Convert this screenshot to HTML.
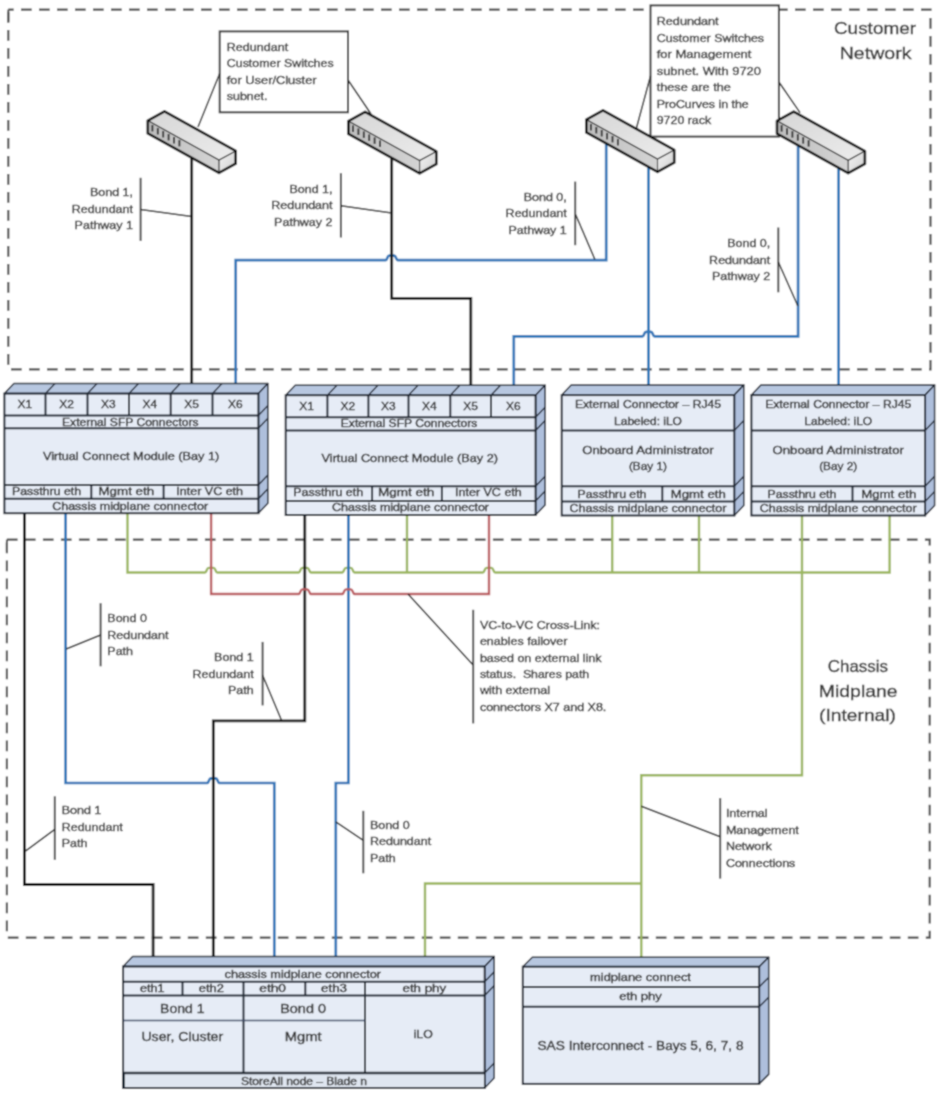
<!DOCTYPE html>
<html><head><meta charset="utf-8"><style>
html,body{margin:0;padding:0;background:#fff;width:944px;height:1106px;overflow:hidden}
svg{display:block}
text{font-family:"Liberation Sans", sans-serif}
</style></head><body>
<svg width="944" height="1106" viewBox="0 0 944 1106">
<defs>
<linearGradient id="swtop" x1="0" y1="0" x2="1" y2="1"><stop offset="0" stop-color="#d6d6d6"/><stop offset="1" stop-color="#ececec"/></linearGradient>
<linearGradient id="swfront" x1="0" y1="0" x2="1" y2="0"><stop offset="0" stop-color="#bdbdbd"/><stop offset="1" stop-color="#d4d4d4"/></linearGradient>
<linearGradient id="swend" x1="0" y1="0" x2="1" y2="1"><stop offset="0" stop-color="#f4f4f4"/><stop offset="1" stop-color="#cfcfcf"/></linearGradient>
<filter id="soft" filterUnits="userSpaceOnUse" x="0" y="0" width="944" height="1106"><feConvolveMatrix order="3" kernelMatrix="1 2 1 2 6 2 1 2 1" divisor="18" edgeMode="duplicate"/></filter>
</defs>
<rect width="944" height="1106" fill="#fff"/>
<g filter="url(#soft)">
<rect width="944" height="1106" fill="#fff"/>
<path d="M8.3,9.6 L930.5,9.6 L930.5,369.3 L8.3,369.3 Z" fill="none" stroke="#4f4f4f" stroke-width="2.2" stroke-dasharray="10.7 7.3" stroke-dashoffset="5.3" stroke-linejoin="miter"/>
<path d="M6.9,539.6 L929.7,539.6 L929.7,937.6 L6.9,937.6 Z" fill="none" stroke="#4f4f4f" stroke-width="2.2" stroke-dasharray="10.7 7.3" stroke-dashoffset="0" stroke-linejoin="miter"/>
<path d="M8.3,21.6 L8.3,9.6" stroke="#4f4f4f" stroke-width="2"/>
<path d="M6.9,551.2 L6.9,539.6" stroke="#4f4f4f" stroke-width="2"/>
<path d="M606.2,140 L606.2,260.2 L397.9,260.2 C395.9,260.2 396.3,255.6 394.09999999999997,255.6 L389.3,255.6 C387.09999999999997,255.6 387.5,260.2 385.5,260.2 L235.7,260.2 L235.7,384" fill="none" stroke="#2e76b8" stroke-width="2.7" stroke-linejoin="miter"/>
<path d="M798.1,143 L798.1,336.4 L654.7,336.4 C652.7,336.4 653.1,331.79999999999995 650.9,331.79999999999995 L646.1,331.79999999999995 C643.9,331.79999999999995 644.3,336.4 642.3,336.4 L513.8,336.4 L513.8,385" fill="none" stroke="#2e76b8" stroke-width="2.7" stroke-linejoin="miter"/>
<path d="M648.5,160 L648.5,385" fill="none" stroke="#2e76b8" stroke-width="2.7" stroke-linejoin="miter"/>
<path d="M838.6,160 L838.6,385" fill="none" stroke="#2e76b8" stroke-width="2.7" stroke-linejoin="miter"/>
<path d="M191.7,150 L191.7,384" fill="none" stroke="#151515" stroke-width="2.8" stroke-linejoin="miter"/>
<path d="M391.7,150 L391.7,298.3 L470.8,298.3 L470.8,385" fill="none" stroke="#151515" stroke-width="2.8" stroke-linejoin="miter"/>
<path d="M127.5,513 L127.5,572.5 L204.9,572.5 C206.9,572.5 206.5,567.9 208.7,567.9 L213.5,567.9 C215.7,567.9 215.29999999999998,572.5 217.29999999999998,572.5 L298.6,572.5 C300.6,572.5 300.2,567.9 302.40000000000003,567.9 L307.2,567.9 C309.40000000000003,567.9 309.0,572.5 311.0,572.5 L342.2,572.5 C344.2,572.5 343.79999999999995,567.9 346.0,567.9 L350.79999999999995,567.9 C353.0,567.9 352.59999999999997,572.5 354.59999999999997,572.5 L482.8,572.5 C484.8,572.5 484.4,567.9 486.6,567.9 L491.4,567.9 C493.6,567.9 493.2,572.5 495.2,572.5 L889.6,572.5 L889.6,515" fill="none" stroke="#9ab55e" stroke-width="2.4" stroke-linejoin="miter"/>
<path d="M24.4,513 L24.4,884.5 L153.1,884.5 L153.1,957" fill="none" stroke="#151515" stroke-width="2.8" stroke-linejoin="miter"/>
<path d="M65.6,513 L65.6,783 L207.10000000000002,783 C209.10000000000002,783 208.70000000000002,778.4 210.9,778.4 L215.70000000000002,778.4 C217.9,778.4 217.5,783 219.5,783 L274.3,783 L274.3,957" fill="none" stroke="#2e76b8" stroke-width="2.7" stroke-linejoin="miter"/>
<path d="M304.8,515 L304.8,720.8 L213.3,720.8 L213.3,957" fill="none" stroke="#151515" stroke-width="2.8" stroke-linejoin="miter"/>
<path d="M348.4,515 L348.4,783 L335.8,783 L335.8,957" fill="none" stroke="#2e76b8" stroke-width="2.7" stroke-linejoin="miter"/>
<path d="M407.0,515 L407.0,572.5" fill="none" stroke="#9ab55e" stroke-width="2.4" stroke-linejoin="miter"/>
<path d="M612.2,515 L612.2,572.5" fill="none" stroke="#9ab55e" stroke-width="2.4" stroke-linejoin="miter"/>
<path d="M699.0,515 L699.0,572.5" fill="none" stroke="#9ab55e" stroke-width="2.4" stroke-linejoin="miter"/>
<path d="M211.1,513 L211.1,594 L298.6,594 C300.6,594 300.2,589.4 302.40000000000003,589.4 L307.2,589.4 C309.40000000000003,589.4 309.0,594 311.0,594 L342.2,594 C344.2,594 343.79999999999995,589.4 346.0,589.4 L350.79999999999995,589.4 C353.0,589.4 352.59999999999997,594 354.59999999999997,594 L489,594 L489,515" fill="none" stroke="#bb5a5f" stroke-width="2.4" stroke-linejoin="miter"/>
<path d="M802,515 L802,775.3 L641.3,775.3 L641.3,957" fill="none" stroke="#9ab55e" stroke-width="2.4" stroke-linejoin="miter"/>
<path d="M641.3,883.5 L425,883.5 L425,957" fill="none" stroke="#9ab55e" stroke-width="2.4" stroke-linejoin="miter"/>
<rect x="219.7" y="31.4" width="128.3" height="80.9" fill="#fff" stroke="#3a3a3a" stroke-width="2"/>
<line x1="198" y1="127" x2="219.7" y2="73.5" stroke="#2a2a2a" stroke-width="1.5" />
<line x1="348" y1="80" x2="371" y2="114" stroke="#2a2a2a" stroke-width="1.5" />
<text x="226.8" y="50.5" font-size="11.5" text-anchor="start" fill="#3a3a3a" stroke="#3a3a3a" stroke-width="0.4" textLength="61.5" lengthAdjust="spacingAndGlyphs" >Redundant</text>
<text x="226.8" y="67.0" font-size="11.5" text-anchor="start" fill="#3a3a3a" stroke="#3a3a3a" stroke-width="0.4" textLength="106.8" lengthAdjust="spacingAndGlyphs" >Customer Switches</text>
<text x="226.8" y="83.5" font-size="11.5" text-anchor="start" fill="#3a3a3a" stroke="#3a3a3a" stroke-width="0.4" textLength="89.8" lengthAdjust="spacingAndGlyphs" >for User/Cluster</text>
<text x="226.8" y="100.0" font-size="11.5" text-anchor="start" fill="#3a3a3a" stroke="#3a3a3a" stroke-width="0.4" textLength="40.7" lengthAdjust="spacingAndGlyphs" >subnet.</text>
<rect x="650.5" y="5.4" width="128.4" height="131.2" fill="#fff" stroke="#3a3a3a" stroke-width="2"/>
<line x1="636.4" y1="128.2" x2="650.5" y2="76" stroke="#2a2a2a" stroke-width="1.5" />
<line x1="778.9" y1="82" x2="800" y2="112.6" stroke="#2a2a2a" stroke-width="1.5" />
<text x="656.7" y="25.0" font-size="11.5" text-anchor="start" fill="#3a3a3a" stroke="#3a3a3a" stroke-width="0.4" textLength="61.9" lengthAdjust="spacingAndGlyphs" >Redundant</text>
<text x="656.7" y="41.53" font-size="11.5" text-anchor="start" fill="#3a3a3a" stroke="#3a3a3a" stroke-width="0.4" textLength="107.4" lengthAdjust="spacingAndGlyphs" >Customer Switches</text>
<text x="656.7" y="58.06" font-size="11.5" text-anchor="start" fill="#3a3a3a" stroke="#3a3a3a" stroke-width="0.4" textLength="94.8" lengthAdjust="spacingAndGlyphs" >for Management</text>
<text x="656.7" y="74.59" font-size="11.5" text-anchor="start" fill="#3a3a3a" stroke="#3a3a3a" stroke-width="0.4" textLength="104.3" lengthAdjust="spacingAndGlyphs" >subnet. With 9720</text>
<text x="656.7" y="91.12" font-size="11.5" text-anchor="start" fill="#3a3a3a" stroke="#3a3a3a" stroke-width="0.4" textLength="74.1" lengthAdjust="spacingAndGlyphs" >these are the</text>
<text x="656.7" y="107.65" font-size="11.5" text-anchor="start" fill="#3a3a3a" stroke="#3a3a3a" stroke-width="0.4" textLength="92" lengthAdjust="spacingAndGlyphs" >ProCurves in the</text>
<text x="656.7" y="124.18" font-size="11.5" text-anchor="start" fill="#3a3a3a" stroke="#3a3a3a" stroke-width="0.4" textLength="54.5" lengthAdjust="spacingAndGlyphs" >9720 rack</text>
<polygon points="147.8,120.6 164.5,111.4 235.7,150.9 219.0,160.1" fill="url(#swtop)"/>
<polygon points="147.8,120.6 219.0,160.1 219.0,172.9 147.8,133.4" fill="url(#swfront)"/>
<polygon points="219.0,160.1 235.7,150.9 235.7,163.7 219.0,172.9" fill="url(#swend)"/>
<polyline points="147.8,120.6 219.0,160.1 235.7,150.9" fill="none" stroke="#222" stroke-width="1.1"/>
<line x1="219.0" y1="160.1" x2="219.0" y2="172.9" stroke="#222" stroke-width="1.1"/>
<line x1="152.4" y1="124.94" x2="152.4" y2="131.44" stroke="#2a2a2a" stroke-width="1.9"/>
<line x1="157.8" y1="127.94" x2="157.8" y2="134.44" stroke="#2a2a2a" stroke-width="1.9"/>
<line x1="163.2" y1="130.94" x2="163.2" y2="137.44" stroke="#2a2a2a" stroke-width="1.9"/>
<line x1="168.6" y1="133.93" x2="168.6" y2="140.43" stroke="#2a2a2a" stroke-width="1.9"/>
<line x1="174.0" y1="136.93" x2="174.0" y2="143.43" stroke="#2a2a2a" stroke-width="1.9"/>
<line x1="179.4" y1="139.92" x2="179.4" y2="146.42" stroke="#2a2a2a" stroke-width="1.9"/>
<polygon points="147.8,120.6 164.5,111.4 235.7,150.9 235.7,163.7 219.0,172.9 147.8,133.4" fill="none" stroke="#111" stroke-width="2.6" stroke-linejoin="round"/>
<polygon points="348.4,121.1 365.1,111.9 436.3,151.4 419.6,160.6" fill="url(#swtop)"/>
<polygon points="348.4,121.1 419.6,160.6 419.6,173.4 348.4,133.9" fill="url(#swfront)"/>
<polygon points="419.6,160.6 436.3,151.4 436.3,164.2 419.6,173.4" fill="url(#swend)"/>
<polyline points="348.4,121.1 419.6,160.6 436.3,151.4" fill="none" stroke="#222" stroke-width="1.1"/>
<line x1="419.6" y1="160.6" x2="419.6" y2="173.4" stroke="#222" stroke-width="1.1"/>
<line x1="353.0" y1="125.44" x2="353.0" y2="131.94" stroke="#2a2a2a" stroke-width="1.9"/>
<line x1="358.4" y1="128.44" x2="358.4" y2="134.94" stroke="#2a2a2a" stroke-width="1.9"/>
<line x1="363.8" y1="131.44" x2="363.8" y2="137.94" stroke="#2a2a2a" stroke-width="1.9"/>
<line x1="369.2" y1="134.43" x2="369.2" y2="140.93" stroke="#2a2a2a" stroke-width="1.9"/>
<line x1="374.6" y1="137.43" x2="374.6" y2="143.93" stroke="#2a2a2a" stroke-width="1.9"/>
<line x1="380.0" y1="140.42" x2="380.0" y2="146.92" stroke="#2a2a2a" stroke-width="1.9"/>
<polygon points="348.4,121.1 365.1,111.9 436.3,151.4 436.3,164.2 419.6,173.4 348.4,133.9" fill="none" stroke="#111" stroke-width="2.6" stroke-linejoin="round"/>
<polygon points="586.3,119.6 603.0,110.4 674.2,149.9 657.5,159.1" fill="url(#swtop)"/>
<polygon points="586.3,119.6 657.5,159.1 657.5,171.9 586.3,132.4" fill="url(#swfront)"/>
<polygon points="657.5,159.1 674.2,149.9 674.2,162.7 657.5,171.9" fill="url(#swend)"/>
<polyline points="586.3,119.6 657.5,159.1 674.2,149.9" fill="none" stroke="#222" stroke-width="1.1"/>
<line x1="657.5" y1="159.1" x2="657.5" y2="171.9" stroke="#222" stroke-width="1.1"/>
<line x1="590.9" y1="123.94" x2="590.9" y2="130.44" stroke="#2a2a2a" stroke-width="1.9"/>
<line x1="596.3" y1="126.94" x2="596.3" y2="133.44" stroke="#2a2a2a" stroke-width="1.9"/>
<line x1="601.7" y1="129.94" x2="601.7" y2="136.44" stroke="#2a2a2a" stroke-width="1.9"/>
<line x1="607.1" y1="132.93" x2="607.1" y2="139.43" stroke="#2a2a2a" stroke-width="1.9"/>
<line x1="612.5" y1="135.93" x2="612.5" y2="142.43" stroke="#2a2a2a" stroke-width="1.9"/>
<line x1="617.9" y1="138.92" x2="617.9" y2="145.42" stroke="#2a2a2a" stroke-width="1.9"/>
<polygon points="586.3,119.6 603.0,110.4 674.2,149.9 674.2,162.7 657.5,171.9 586.3,132.4" fill="none" stroke="#111" stroke-width="2.6" stroke-linejoin="round"/>
<polygon points="777.0,120.8 793.7,111.6 864.9,151.1 848.2,160.3" fill="url(#swtop)"/>
<polygon points="777.0,120.8 848.2,160.3 848.2,173.1 777.0,133.6" fill="url(#swfront)"/>
<polygon points="848.2,160.3 864.9,151.1 864.9,163.9 848.2,173.1" fill="url(#swend)"/>
<polyline points="777.0,120.8 848.2,160.3 864.9,151.1" fill="none" stroke="#222" stroke-width="1.1"/>
<line x1="848.2" y1="160.3" x2="848.2" y2="173.1" stroke="#222" stroke-width="1.1"/>
<line x1="781.6" y1="125.14" x2="781.6" y2="131.64" stroke="#2a2a2a" stroke-width="1.9"/>
<line x1="787.0" y1="128.14" x2="787.0" y2="134.64" stroke="#2a2a2a" stroke-width="1.9"/>
<line x1="792.4" y1="131.14" x2="792.4" y2="137.64" stroke="#2a2a2a" stroke-width="1.9"/>
<line x1="797.8" y1="134.13" x2="797.8" y2="140.63" stroke="#2a2a2a" stroke-width="1.9"/>
<line x1="803.2" y1="137.13" x2="803.2" y2="143.63" stroke="#2a2a2a" stroke-width="1.9"/>
<line x1="808.6" y1="140.12" x2="808.6" y2="146.62" stroke="#2a2a2a" stroke-width="1.9"/>
<polygon points="777.0,120.8 793.7,111.6 864.9,151.1 864.9,163.9 848.2,173.1 777.0,133.6" fill="none" stroke="#111" stroke-width="2.6" stroke-linejoin="round"/>
<text x="875" y="33.9" font-size="17" text-anchor="middle" fill="#3a3a3a" stroke="#3a3a3a" stroke-width="0.4" textLength="82.1" lengthAdjust="spacingAndGlyphs" >Customer</text>
<text x="875.6" y="58.9" font-size="17" text-anchor="middle" fill="#3a3a3a" stroke="#3a3a3a" stroke-width="0.4" textLength="71.7" lengthAdjust="spacingAndGlyphs" >Network</text>
<text x="857.9" y="671.5" font-size="17" text-anchor="middle" fill="#3a3a3a" stroke="#3a3a3a" stroke-width="0.4" textLength="60.3" lengthAdjust="spacingAndGlyphs" >Chassis</text>
<text x="858.2" y="696.6" font-size="17" text-anchor="middle" fill="#3a3a3a" stroke="#3a3a3a" stroke-width="0.4" textLength="78.8" lengthAdjust="spacingAndGlyphs" >Midplane</text>
<text x="857.5" y="721.4" font-size="17" text-anchor="middle" fill="#3a3a3a" stroke="#3a3a3a" stroke-width="0.4" textLength="77" lengthAdjust="spacingAndGlyphs" >(Internal)</text>
<line x1="140.6" y1="177.8" x2="140.6" y2="240.9" stroke="#484848" stroke-width="2" />
<line x1="140.6" y1="209.6" x2="191.7" y2="216.4" stroke="#222" stroke-width="1.5" />
<text x="133" y="196.4" font-size="11.5" text-anchor="end" fill="#3a3a3a" stroke="#3a3a3a" stroke-width="0.4" textLength="43.09" lengthAdjust="spacingAndGlyphs" >Bond 1,</text>
<text x="133" y="212.9" font-size="11.5" text-anchor="end" fill="#3a3a3a" stroke="#3a3a3a" stroke-width="0.4" textLength="61.16" lengthAdjust="spacingAndGlyphs" >Redundant</text>
<text x="133" y="229.4" font-size="11.5" text-anchor="end" fill="#3a3a3a" stroke="#3a3a3a" stroke-width="0.4" textLength="58.37" lengthAdjust="spacingAndGlyphs" >Pathway 1</text>
<line x1="340.9" y1="173.2" x2="340.9" y2="237.5" stroke="#484848" stroke-width="2" />
<line x1="340.9" y1="205.8" x2="391.7" y2="212.9" stroke="#222" stroke-width="1.5" />
<text x="332.5" y="192.5" font-size="11.5" text-anchor="end" fill="#3a3a3a" stroke="#3a3a3a" stroke-width="0.4" textLength="43.09" lengthAdjust="spacingAndGlyphs" >Bond 1,</text>
<text x="332.5" y="209.0" font-size="11.5" text-anchor="end" fill="#3a3a3a" stroke="#3a3a3a" stroke-width="0.4" textLength="61.16" lengthAdjust="spacingAndGlyphs" >Redundant</text>
<text x="332.5" y="225.5" font-size="11.5" text-anchor="end" fill="#3a3a3a" stroke="#3a3a3a" stroke-width="0.4" textLength="58.37" lengthAdjust="spacingAndGlyphs" >Pathway 2</text>
<line x1="575.2" y1="181.6" x2="575.2" y2="245.2" stroke="#484848" stroke-width="2" />
<line x1="575.7" y1="214.7" x2="594.8" y2="259.2" stroke="#222" stroke-width="1.5" />
<text x="566.8" y="200.7" font-size="11.5" text-anchor="end" fill="#3a3a3a" stroke="#3a3a3a" stroke-width="0.4" textLength="43.09" lengthAdjust="spacingAndGlyphs" >Bond 0,</text>
<text x="566.8" y="217.2" font-size="11.5" text-anchor="end" fill="#3a3a3a" stroke="#3a3a3a" stroke-width="0.4" textLength="61.16" lengthAdjust="spacingAndGlyphs" >Redundant</text>
<text x="566.8" y="233.7" font-size="11.5" text-anchor="end" fill="#3a3a3a" stroke="#3a3a3a" stroke-width="0.4" textLength="58.37" lengthAdjust="spacingAndGlyphs" >Pathway 1</text>
<line x1="778.3" y1="227.5" x2="778.3" y2="292.3" stroke="#484848" stroke-width="2" />
<line x1="778.3" y1="262" x2="797.9" y2="306" stroke="#222" stroke-width="1.5" />
<text x="770.3" y="247.4" font-size="11.5" text-anchor="end" fill="#3a3a3a" stroke="#3a3a3a" stroke-width="0.4" textLength="43.09" lengthAdjust="spacingAndGlyphs" >Bond 0,</text>
<text x="770.3" y="263.9" font-size="11.5" text-anchor="end" fill="#3a3a3a" stroke="#3a3a3a" stroke-width="0.4" textLength="61.16" lengthAdjust="spacingAndGlyphs" >Redundant</text>
<text x="770.3" y="280.4" font-size="11.5" text-anchor="end" fill="#3a3a3a" stroke="#3a3a3a" stroke-width="0.4" textLength="58.37" lengthAdjust="spacingAndGlyphs" >Pathway 2</text>
<line x1="100.6" y1="603.2" x2="100.6" y2="666.3" stroke="#484848" stroke-width="2" />
<line x1="100.6" y1="635" x2="66.2" y2="649" stroke="#222" stroke-width="1.5" />
<text x="107.3" y="622.0" font-size="11.5" text-anchor="start" fill="#3a3a3a" stroke="#3a3a3a" stroke-width="0.4" textLength="39.62" lengthAdjust="spacingAndGlyphs" >Bond 0</text>
<text x="107.3" y="638.5" font-size="11.5" text-anchor="start" fill="#3a3a3a" stroke="#3a3a3a" stroke-width="0.4" textLength="61.16" lengthAdjust="spacingAndGlyphs" >Redundant</text>
<text x="107.3" y="655.0" font-size="11.5" text-anchor="start" fill="#3a3a3a" stroke="#3a3a3a" stroke-width="0.4" textLength="25.71" lengthAdjust="spacingAndGlyphs" >Path</text>
<line x1="262.6" y1="641.9" x2="262.6" y2="705.4" stroke="#484848" stroke-width="2" />
<line x1="262.6" y1="675.2" x2="281.7" y2="720.8" stroke="#222" stroke-width="1.5" />
<text x="253.7" y="661.0" font-size="11.5" text-anchor="end" fill="#3a3a3a" stroke="#3a3a3a" stroke-width="0.4" textLength="39.62" lengthAdjust="spacingAndGlyphs" >Bond 1</text>
<text x="253.7" y="677.5" font-size="11.5" text-anchor="end" fill="#3a3a3a" stroke="#3a3a3a" stroke-width="0.4" textLength="61.16" lengthAdjust="spacingAndGlyphs" >Redundant</text>
<text x="253.7" y="694.0" font-size="11.5" text-anchor="end" fill="#3a3a3a" stroke="#3a3a3a" stroke-width="0.4" textLength="25.71" lengthAdjust="spacingAndGlyphs" >Path</text>
<line x1="363.3" y1="810.8" x2="363.3" y2="873.3" stroke="#484848" stroke-width="2" />
<line x1="363.3" y1="840.3" x2="335.8" y2="821.9" stroke="#222" stroke-width="1.5" />
<text x="370" y="828.9" font-size="11.5" text-anchor="start" fill="#3a3a3a" stroke="#3a3a3a" stroke-width="0.4" textLength="39.62" lengthAdjust="spacingAndGlyphs" >Bond 0</text>
<text x="370" y="845.4" font-size="11.5" text-anchor="start" fill="#3a3a3a" stroke="#3a3a3a" stroke-width="0.4" textLength="61.16" lengthAdjust="spacingAndGlyphs" >Redundant</text>
<text x="370" y="861.9" font-size="11.5" text-anchor="start" fill="#3a3a3a" stroke="#3a3a3a" stroke-width="0.4" textLength="25.71" lengthAdjust="spacingAndGlyphs" >Path</text>
<line x1="54.8" y1="796.3" x2="54.8" y2="859.8" stroke="#484848" stroke-width="2" />
<line x1="54.8" y1="829.4" x2="24.4" y2="851.9" stroke="#222" stroke-width="1.5" />
<text x="61.7" y="814.3" font-size="11.5" text-anchor="start" fill="#3a3a3a" stroke="#3a3a3a" stroke-width="0.4" textLength="39.62" lengthAdjust="spacingAndGlyphs" >Bond 1</text>
<text x="61.7" y="830.8" font-size="11.5" text-anchor="start" fill="#3a3a3a" stroke="#3a3a3a" stroke-width="0.4" textLength="61.16" lengthAdjust="spacingAndGlyphs" >Redundant</text>
<text x="61.7" y="847.3" font-size="11.5" text-anchor="start" fill="#3a3a3a" stroke="#3a3a3a" stroke-width="0.4" textLength="25.71" lengthAdjust="spacingAndGlyphs" >Path</text>
<line x1="473.2" y1="609.8" x2="473.2" y2="723.4" stroke="#484848" stroke-width="2" />
<line x1="408" y1="594" x2="473.1" y2="664.9" stroke="#222" stroke-width="1.5" />
<text x="479.9" y="628.8" font-size="11.2" text-anchor="start" fill="#3a3a3a" stroke="#3a3a3a" stroke-width="0.4" textLength="120.16" lengthAdjust="spacingAndGlyphs" >VC-to-VC Cross-Link:</text>
<text x="479.9" y="645.1999999999999" font-size="11.2" text-anchor="start" fill="#3a3a3a" stroke="#3a3a3a" stroke-width="0.4" textLength="87.55" lengthAdjust="spacingAndGlyphs" >enables failover</text>
<text x="479.9" y="661.5999999999999" font-size="11.2" text-anchor="start" fill="#3a3a3a" stroke="#3a3a3a" stroke-width="0.4" textLength="121.6" lengthAdjust="spacingAndGlyphs" >based on external link</text>
<text x="479.9" y="678.0" font-size="11.2" text-anchor="start" fill="#3a3a3a" stroke="#3a3a3a" stroke-width="0.4" textLength="109.3" lengthAdjust="spacingAndGlyphs" >status.  Shares path</text>
<text x="479.9" y="694.4" font-size="11.2" text-anchor="start" fill="#3a3a3a" stroke="#3a3a3a" stroke-width="0.4" textLength="70.17" lengthAdjust="spacingAndGlyphs" >with external</text>
<text x="479.9" y="710.8" font-size="11.2" text-anchor="start" fill="#3a3a3a" stroke="#3a3a3a" stroke-width="0.4" textLength="126.46" lengthAdjust="spacingAndGlyphs" >connectors X7 and X8.</text>
<line x1="720.2" y1="798.1" x2="720.2" y2="878.6" stroke="#484848" stroke-width="2" />
<line x1="641.3" y1="806.2" x2="720.2" y2="836.7" stroke="#222" stroke-width="1.5" />
<text x="725.9" y="817.2" font-size="11" text-anchor="start" fill="#3a3a3a" stroke="#3a3a3a" stroke-width="0.4" textLength="41.69" lengthAdjust="spacingAndGlyphs" >Internal</text>
<text x="725.9" y="833.8000000000001" font-size="11" text-anchor="start" fill="#3a3a3a" stroke="#3a3a3a" stroke-width="0.4" textLength="72.96" lengthAdjust="spacingAndGlyphs" >Management</text>
<text x="725.9" y="850.4000000000001" font-size="11" text-anchor="start" fill="#3a3a3a" stroke="#3a3a3a" stroke-width="0.4" textLength="45.84" lengthAdjust="spacingAndGlyphs" >Network</text>
<text x="725.9" y="867.0" font-size="11" text-anchor="start" fill="#3a3a3a" stroke="#3a3a3a" stroke-width="0.4" textLength="69.48" lengthAdjust="spacingAndGlyphs" >Connections</text>
<polygon points="4.4,393.6 13.9,383.6 267.9,383.6 258.4,393.6" fill="#b7c7e0" stroke="#1f2633" stroke-width="1.5" stroke-linejoin="round"/>
<polygon points="258.4,393.6 267.9,383.6 267.9,503.20000000000005 258.4,513.2" fill="#aebfdc" stroke="#1f2633" stroke-width="1.5" stroke-linejoin="round"/>
<rect x="4.4" y="393.6" width="254.0" height="119.6" fill="#e6ecf6" stroke="#1f2633" stroke-width="2"/>
<line x1="4.4" y1="415.5" x2="258.4" y2="415.5" stroke="#1f2633" stroke-width="2" />
<line x1="258.4" y1="415.5" x2="267.9" y2="405.5" stroke="#1f2633" stroke-width="1.4" />
<line x1="4.4" y1="428.2" x2="258.4" y2="428.2" stroke="#1f2633" stroke-width="2" />
<line x1="258.4" y1="428.2" x2="267.9" y2="418.2" stroke="#1f2633" stroke-width="1.4" />
<line x1="4.4" y1="485" x2="258.4" y2="485" stroke="#1f2633" stroke-width="2" />
<line x1="258.4" y1="485" x2="267.9" y2="475" stroke="#1f2633" stroke-width="1.4" />
<line x1="4.4" y1="498.8" x2="258.4" y2="498.8" stroke="#1f2633" stroke-width="2" />
<line x1="258.4" y1="498.8" x2="267.9" y2="488.8" stroke="#1f2633" stroke-width="1.4" />
<line x1="45.5" y1="393.6" x2="55.0" y2="383.6" stroke="#1f2633" stroke-width="1.4" />
<line x1="87.5" y1="393.6" x2="97.0" y2="383.6" stroke="#1f2633" stroke-width="1.4" />
<line x1="129" y1="393.6" x2="138.5" y2="383.6" stroke="#1f2633" stroke-width="1.4" />
<line x1="170.7" y1="393.6" x2="180.2" y2="383.6" stroke="#1f2633" stroke-width="1.4" />
<line x1="212.5" y1="393.6" x2="222.0" y2="383.6" stroke="#1f2633" stroke-width="1.4" />
<line x1="45.5" y1="393.6" x2="45.5" y2="415.5" stroke="#1f2633" stroke-width="2" />
<line x1="87.5" y1="393.6" x2="87.5" y2="415.5" stroke="#1f2633" stroke-width="2" />
<line x1="129" y1="393.6" x2="129" y2="415.5" stroke="#1f2633" stroke-width="2" />
<line x1="170.7" y1="393.6" x2="170.7" y2="415.5" stroke="#1f2633" stroke-width="2" />
<line x1="212.5" y1="393.6" x2="212.5" y2="415.5" stroke="#1f2633" stroke-width="2" />
<line x1="91.3" y1="485" x2="91.3" y2="498.8" stroke="#1f2633" stroke-width="2" />
<line x1="163.6" y1="485" x2="163.6" y2="498.8" stroke="#1f2633" stroke-width="2" />
<text x="24.95" y="407.5" font-size="11" text-anchor="middle" fill="#333" stroke="#333" stroke-width="0.4" textLength="14.62" lengthAdjust="spacingAndGlyphs" >X1</text>
<text x="66.5" y="407.5" font-size="11" text-anchor="middle" fill="#333" stroke="#333" stroke-width="0.4" textLength="14.62" lengthAdjust="spacingAndGlyphs" >X2</text>
<text x="108.25" y="407.5" font-size="11" text-anchor="middle" fill="#333" stroke="#333" stroke-width="0.4" textLength="14.62" lengthAdjust="spacingAndGlyphs" >X3</text>
<text x="149.85" y="407.5" font-size="11" text-anchor="middle" fill="#333" stroke="#333" stroke-width="0.4" textLength="14.62" lengthAdjust="spacingAndGlyphs" >X4</text>
<text x="191.6" y="407.5" font-size="11" text-anchor="middle" fill="#333" stroke="#333" stroke-width="0.4" textLength="14.62" lengthAdjust="spacingAndGlyphs" >X5</text>
<text x="235.45" y="407.5" font-size="11" text-anchor="middle" fill="#333" stroke="#333" stroke-width="0.4" textLength="14.62" lengthAdjust="spacingAndGlyphs" >X6</text>
<text x="130.3" y="425.6" font-size="11" text-anchor="middle" fill="#333" stroke="#333" stroke-width="0.4" textLength="136.6" lengthAdjust="spacingAndGlyphs" >External SFP Connectors</text>
<text x="131.1" y="460" font-size="11" text-anchor="middle" fill="#333" stroke="#333" stroke-width="0.4" textLength="176.4" lengthAdjust="spacingAndGlyphs" >Virtual Connect Module (Bay 1)</text>
<text x="46.5" y="494.9" font-size="11" text-anchor="middle" fill="#333" stroke="#333" stroke-width="0.4" textLength="69" lengthAdjust="spacingAndGlyphs" >Passthru eth</text>
<text x="126.3" y="494.9" font-size="11" text-anchor="middle" fill="#333" stroke="#333" stroke-width="0.4" textLength="55.6" lengthAdjust="spacingAndGlyphs" >Mgmt eth</text>
<text x="209.7" y="494.9" font-size="11" text-anchor="middle" fill="#333" stroke="#333" stroke-width="0.4" textLength="66.7" lengthAdjust="spacingAndGlyphs" >Inter VC eth</text>
<text x="130.2" y="509.8" font-size="11" text-anchor="middle" fill="#333" stroke="#333" stroke-width="0.4" textLength="155.7" lengthAdjust="spacingAndGlyphs" >Chassis midplane connector</text>
<polygon points="285.7,395.2 295.2,385.2 545.1,385.2 535.6,395.2" fill="#b7c7e0" stroke="#1f2633" stroke-width="1.5" stroke-linejoin="round"/>
<polygon points="535.6,395.2 545.1,385.2 545.1,505 535.6,515" fill="#aebfdc" stroke="#1f2633" stroke-width="1.5" stroke-linejoin="round"/>
<rect x="285.7" y="395.2" width="249.9" height="119.8" fill="#e6ecf6" stroke="#1f2633" stroke-width="2"/>
<line x1="285.7" y1="417.3" x2="535.6" y2="417.3" stroke="#1f2633" stroke-width="2" />
<line x1="535.6" y1="417.3" x2="545.1" y2="407.3" stroke="#1f2633" stroke-width="1.4" />
<line x1="285.7" y1="430.6" x2="535.6" y2="430.6" stroke="#1f2633" stroke-width="2" />
<line x1="535.6" y1="430.6" x2="545.1" y2="420.6" stroke="#1f2633" stroke-width="1.4" />
<line x1="285.7" y1="486.2" x2="535.6" y2="486.2" stroke="#1f2633" stroke-width="2" />
<line x1="535.6" y1="486.2" x2="545.1" y2="476.2" stroke="#1f2633" stroke-width="1.4" />
<line x1="285.7" y1="501" x2="535.6" y2="501" stroke="#1f2633" stroke-width="2" />
<line x1="535.6" y1="501" x2="545.1" y2="491" stroke="#1f2633" stroke-width="1.4" />
<line x1="327.4" y1="395.2" x2="336.9" y2="385.2" stroke="#1f2633" stroke-width="1.4" />
<line x1="368.4" y1="395.2" x2="377.9" y2="385.2" stroke="#1f2633" stroke-width="1.4" />
<line x1="408.5" y1="395.2" x2="418.0" y2="385.2" stroke="#1f2633" stroke-width="1.4" />
<line x1="450.3" y1="395.2" x2="459.8" y2="385.2" stroke="#1f2633" stroke-width="1.4" />
<line x1="491" y1="395.2" x2="500.5" y2="385.2" stroke="#1f2633" stroke-width="1.4" />
<line x1="327.4" y1="395.2" x2="327.4" y2="417.3" stroke="#1f2633" stroke-width="2" />
<line x1="368.4" y1="395.2" x2="368.4" y2="417.3" stroke="#1f2633" stroke-width="2" />
<line x1="408.5" y1="395.2" x2="408.5" y2="417.3" stroke="#1f2633" stroke-width="2" />
<line x1="450.3" y1="395.2" x2="450.3" y2="417.3" stroke="#1f2633" stroke-width="2" />
<line x1="491" y1="395.2" x2="491" y2="417.3" stroke="#1f2633" stroke-width="2" />
<line x1="372.1" y1="486.2" x2="372.1" y2="501" stroke="#1f2633" stroke-width="2" />
<line x1="441.9" y1="486.2" x2="441.9" y2="501" stroke="#1f2633" stroke-width="2" />
<text x="306.54999999999995" y="409.5" font-size="11" text-anchor="middle" fill="#333" stroke="#333" stroke-width="0.4" textLength="14.62" lengthAdjust="spacingAndGlyphs" >X1</text>
<text x="347.9" y="409.5" font-size="11" text-anchor="middle" fill="#333" stroke="#333" stroke-width="0.4" textLength="14.62" lengthAdjust="spacingAndGlyphs" >X2</text>
<text x="388.45" y="409.5" font-size="11" text-anchor="middle" fill="#333" stroke="#333" stroke-width="0.4" textLength="14.62" lengthAdjust="spacingAndGlyphs" >X3</text>
<text x="429.4" y="409.5" font-size="11" text-anchor="middle" fill="#333" stroke="#333" stroke-width="0.4" textLength="14.62" lengthAdjust="spacingAndGlyphs" >X4</text>
<text x="470.65" y="409.5" font-size="11" text-anchor="middle" fill="#333" stroke="#333" stroke-width="0.4" textLength="14.62" lengthAdjust="spacingAndGlyphs" >X5</text>
<text x="513.3" y="409.5" font-size="11" text-anchor="middle" fill="#333" stroke="#333" stroke-width="0.4" textLength="14.62" lengthAdjust="spacingAndGlyphs" >X6</text>
<text x="409" y="427.3" font-size="11" text-anchor="middle" fill="#333" stroke="#333" stroke-width="0.4" textLength="136.5" lengthAdjust="spacingAndGlyphs" >External SFP Connectors</text>
<text x="409.8" y="462" font-size="11" text-anchor="middle" fill="#333" stroke="#333" stroke-width="0.4" textLength="176.5" lengthAdjust="spacingAndGlyphs" >Virtual Connect Module (Bay 2)</text>
<text x="328.2" y="496.1" font-size="11" text-anchor="middle" fill="#333" stroke="#333" stroke-width="0.4" textLength="69.7" lengthAdjust="spacingAndGlyphs" >Passthru eth</text>
<text x="406.1" y="496.1" font-size="11" text-anchor="middle" fill="#333" stroke="#333" stroke-width="0.4" textLength="56.4" lengthAdjust="spacingAndGlyphs" >Mgmt eth</text>
<text x="488.4" y="496.1" font-size="11" text-anchor="middle" fill="#333" stroke="#333" stroke-width="0.4" textLength="66.8" lengthAdjust="spacingAndGlyphs" >Inter VC eth</text>
<text x="410.5" y="510.9" font-size="11" text-anchor="middle" fill="#333" stroke="#333" stroke-width="0.4" textLength="157" lengthAdjust="spacingAndGlyphs" >Chassis midplane connector</text>
<polygon points="561.7,395.1 571.2,385.1 743.8,385.1 734.3,395.1" fill="#b7c7e0" stroke="#1f2633" stroke-width="1.5" stroke-linejoin="round"/>
<polygon points="734.3,395.1 743.8,385.1 743.8,505.5 734.3,515.5" fill="#aebfdc" stroke="#1f2633" stroke-width="1.5" stroke-linejoin="round"/>
<rect x="561.7" y="395.1" width="172.6" height="120.4" fill="#e6ecf6" stroke="#1f2633" stroke-width="2"/>
<line x1="561.7" y1="430.5" x2="734.3" y2="430.5" stroke="#1f2633" stroke-width="2" />
<line x1="734.3" y1="430.5" x2="743.8" y2="420.5" stroke="#1f2633" stroke-width="1.4" />
<line x1="561.7" y1="486.2" x2="734.3" y2="486.2" stroke="#1f2633" stroke-width="2" />
<line x1="734.3" y1="486.2" x2="743.8" y2="476.2" stroke="#1f2633" stroke-width="1.4" />
<line x1="561.7" y1="501.5" x2="734.3" y2="501.5" stroke="#1f2633" stroke-width="2" />
<line x1="734.3" y1="501.5" x2="743.8" y2="491.5" stroke="#1f2633" stroke-width="1.4" />
<line x1="662.3" y1="486.2" x2="662.3" y2="501.5" stroke="#1f2633" stroke-width="2" />
<text x="648.0" y="407.8" font-size="11" text-anchor="middle" fill="#333" stroke="#333" stroke-width="0.4" textLength="146.2" lengthAdjust="spacingAndGlyphs" >External Connector – RJ45</text>
<text x="648.0" y="424.8" font-size="11" text-anchor="middle" fill="#333" stroke="#333" stroke-width="0.4" textLength="67.8" lengthAdjust="spacingAndGlyphs" >Labeled: iLO</text>
<text x="648.0" y="453.8" font-size="11" text-anchor="middle" fill="#333" stroke="#333" stroke-width="0.4" textLength="131.3" lengthAdjust="spacingAndGlyphs" >Onboard Administrator</text>
<text x="648.0" y="470.3" font-size="11" text-anchor="middle" fill="#333" stroke="#333" stroke-width="0.4" textLength="38.1" lengthAdjust="spacingAndGlyphs" >(Bay 1)</text>
<text x="612.0" y="497.9" font-size="11" text-anchor="middle" fill="#333" stroke="#333" stroke-width="0.4" textLength="68.8" lengthAdjust="spacingAndGlyphs" >Passthru eth</text>
<text x="698.3" y="497.9" font-size="11" text-anchor="middle" fill="#333" stroke="#333" stroke-width="0.4" textLength="55" lengthAdjust="spacingAndGlyphs" >Mgmt eth</text>
<text x="648.0" y="511.7" font-size="11" text-anchor="middle" fill="#333" stroke="#333" stroke-width="0.4" textLength="156.8" lengthAdjust="spacingAndGlyphs" >Chassis midplane connector</text>
<polygon points="751.4,395.1 760.9,385.1 934.6,385.1 925.1,395.1" fill="#b7c7e0" stroke="#1f2633" stroke-width="1.5" stroke-linejoin="round"/>
<polygon points="925.1,395.1 934.6,385.1 934.6,505.5 925.1,515.5" fill="#aebfdc" stroke="#1f2633" stroke-width="1.5" stroke-linejoin="round"/>
<rect x="751.4" y="395.1" width="173.7" height="120.4" fill="#e6ecf6" stroke="#1f2633" stroke-width="2"/>
<line x1="751.4" y1="430.5" x2="925.1" y2="430.5" stroke="#1f2633" stroke-width="2" />
<line x1="925.1" y1="430.5" x2="934.6" y2="420.5" stroke="#1f2633" stroke-width="1.4" />
<line x1="751.4" y1="486.2" x2="925.1" y2="486.2" stroke="#1f2633" stroke-width="2" />
<line x1="925.1" y1="486.2" x2="934.6" y2="476.2" stroke="#1f2633" stroke-width="1.4" />
<line x1="751.4" y1="501.5" x2="925.1" y2="501.5" stroke="#1f2633" stroke-width="2" />
<line x1="925.1" y1="501.5" x2="934.6" y2="491.5" stroke="#1f2633" stroke-width="1.4" />
<line x1="852.5" y1="486.2" x2="852.5" y2="501.5" stroke="#1f2633" stroke-width="2" />
<text x="838.25" y="407.8" font-size="11" text-anchor="middle" fill="#333" stroke="#333" stroke-width="0.4" textLength="146.2" lengthAdjust="spacingAndGlyphs" >External Connector – RJ45</text>
<text x="838.25" y="424.8" font-size="11" text-anchor="middle" fill="#333" stroke="#333" stroke-width="0.4" textLength="67.8" lengthAdjust="spacingAndGlyphs" >Labeled: iLO</text>
<text x="838.25" y="453.8" font-size="11" text-anchor="middle" fill="#333" stroke="#333" stroke-width="0.4" textLength="131.3" lengthAdjust="spacingAndGlyphs" >Onboard Administrator</text>
<text x="838.25" y="470.3" font-size="11" text-anchor="middle" fill="#333" stroke="#333" stroke-width="0.4" textLength="38.1" lengthAdjust="spacingAndGlyphs" >(Bay 2)</text>
<text x="801.95" y="497.9" font-size="11" text-anchor="middle" fill="#333" stroke="#333" stroke-width="0.4" textLength="68.8" lengthAdjust="spacingAndGlyphs" >Passthru eth</text>
<text x="888.8" y="497.9" font-size="11" text-anchor="middle" fill="#333" stroke="#333" stroke-width="0.4" textLength="55" lengthAdjust="spacingAndGlyphs" >Mgmt eth</text>
<text x="838.25" y="511.7" font-size="11" text-anchor="middle" fill="#333" stroke="#333" stroke-width="0.4" textLength="156.8" lengthAdjust="spacingAndGlyphs" >Chassis midplane connector</text>
<polygon points="123.1,966.5 132.6,956.5 494.2,956.5 484.7,966.5" fill="#b7c7e0" stroke="#1f2633" stroke-width="1.5" stroke-linejoin="round"/>
<polygon points="484.7,966.5 494.2,956.5 494.2,1077.9 484.7,1087.9" fill="#aebfdc" stroke="#1f2633" stroke-width="1.5" stroke-linejoin="round"/>
<rect x="123.1" y="966.5" width="361.6" height="121.4" fill="#e6ecf6" stroke="#1f2633" stroke-width="2"/>
<line x1="123.1" y1="981.7" x2="484.7" y2="981.7" stroke="#1f2633" stroke-width="2" />
<line x1="484.7" y1="981.7" x2="494.2" y2="971.7" stroke="#1f2633" stroke-width="1.4" />
<line x1="123.1" y1="995.5" x2="484.7" y2="995.5" stroke="#1f2633" stroke-width="2" />
<line x1="484.7" y1="995.5" x2="494.2" y2="985.5" stroke="#1f2633" stroke-width="1.4" />
<line x1="123.1" y1="1073" x2="484.7" y2="1073" stroke="#1f2633" stroke-width="2" />
<line x1="484.7" y1="1073" x2="494.2" y2="1063" stroke="#1f2633" stroke-width="1.4" />
<rect x="124" y="1074" width="359.8" height="13" fill="#dfe6f0"/>
<line x1="123.1" y1="1073" x2="484.7" y2="1073" stroke="#1f2633" stroke-width="2.4" />
<line x1="123.6" y1="1073" x2="123.6" y2="1088" stroke="#1f2633" stroke-width="2.6" />
<line x1="182.5" y1="981.7" x2="182.5" y2="995.5" stroke="#1f2633" stroke-width="2" />
<line x1="243.5" y1="981.7" x2="243.5" y2="995.5" stroke="#1f2633" stroke-width="2" />
<line x1="305.3" y1="981.7" x2="305.3" y2="995.5" stroke="#1f2633" stroke-width="2" />
<line x1="365" y1="981.7" x2="365" y2="995.5" stroke="#1f2633" stroke-width="2" />
<line x1="243.5" y1="995.5" x2="243.5" y2="1073" stroke="#1f2633" stroke-width="2" />
<line x1="365" y1="995.5" x2="365" y2="1073" stroke="#1f2633" stroke-width="2" />
<line x1="123.1" y1="1020.5" x2="365" y2="1020.5" stroke="#3b4a66" stroke-width="1.3" />
<text x="302.8" y="977.6" font-size="11" text-anchor="middle" fill="#333" stroke="#333" stroke-width="0.4" textLength="156.5" lengthAdjust="spacingAndGlyphs" >chassis midplane connector</text>
<text x="152.3" y="991.6" font-size="10" text-anchor="middle" fill="#333" stroke="#333" stroke-width="0.4" textLength="24.5" lengthAdjust="spacingAndGlyphs" >eth1</text>
<text x="211.3" y="991.6" font-size="10" text-anchor="middle" fill="#333" stroke="#333" stroke-width="0.4" textLength="25" lengthAdjust="spacingAndGlyphs" >eth2</text>
<text x="272.6" y="991.6" font-size="10" text-anchor="middle" fill="#333" stroke="#333" stroke-width="0.4" textLength="26.7" lengthAdjust="spacingAndGlyphs" >eth0</text>
<text x="334" y="991.6" font-size="10" text-anchor="middle" fill="#333" stroke="#333" stroke-width="0.4" textLength="26" lengthAdjust="spacingAndGlyphs" >eth3</text>
<text x="424.3" y="991.6" font-size="10" text-anchor="middle" fill="#333" stroke="#333" stroke-width="0.4" textLength="43.6" lengthAdjust="spacingAndGlyphs" >eth phy</text>
<text x="182.3" y="1012.5" font-size="12.5" text-anchor="middle" fill="#333" stroke="#333" stroke-width="0.4" textLength="44.5" lengthAdjust="spacingAndGlyphs" >Bond 1</text>
<text x="303.1" y="1012.5" font-size="12.5" text-anchor="middle" fill="#333" stroke="#333" stroke-width="0.4" textLength="45.8" lengthAdjust="spacingAndGlyphs" >Bond 0</text>
<text x="182.3" y="1041" font-size="12.5" text-anchor="middle" fill="#333" stroke="#333" stroke-width="0.4" textLength="81.8" lengthAdjust="spacingAndGlyphs" >User, Cluster</text>
<text x="303.1" y="1041" font-size="12.5" text-anchor="middle" fill="#333" stroke="#333" stroke-width="0.4" textLength="36.9" lengthAdjust="spacingAndGlyphs" >Mgmt</text>
<text x="423.2" y="1038" font-size="10.5" text-anchor="middle" fill="#333" stroke="#333" stroke-width="0.4" textLength="19.1" lengthAdjust="spacingAndGlyphs" >iLO</text>
<text x="304" y="1084.6" font-size="11" text-anchor="middle" fill="#333" stroke="#333" stroke-width="0.4" textLength="125.9" lengthAdjust="spacingAndGlyphs" >StoreAll node – Blade n</text>
<polygon points="522.8,966.7 532.3,957.2 768.7,957.2 759.2,966.7" fill="#b7c7e0" stroke="#1f2633" stroke-width="1.5" stroke-linejoin="round"/>
<polygon points="759.2,966.7 768.7,957.2 768.7,1074.4 759.2,1083.9" fill="#aebfdc" stroke="#1f2633" stroke-width="1.5" stroke-linejoin="round"/>
<rect x="522.8" y="966.7" width="236.4" height="117.2" fill="#e6ecf6" stroke="#1f2633" stroke-width="2"/>
<line x1="522.8" y1="986.9" x2="759.2" y2="986.9" stroke="#1f2633" stroke-width="2" />
<line x1="759.2" y1="986.9" x2="768.7" y2="977.4" stroke="#1f2633" stroke-width="1.4" />
<line x1="522.8" y1="1006.7" x2="759.2" y2="1006.7" stroke="#1f2633" stroke-width="2" />
<line x1="759.2" y1="1006.7" x2="768.7" y2="997.2" stroke="#1f2633" stroke-width="1.4" />
<text x="640.5" y="980.6" font-size="11" text-anchor="middle" fill="#333" stroke="#333" stroke-width="0.4" textLength="100.9" lengthAdjust="spacingAndGlyphs" >midplane connect</text>
<text x="640.5" y="1000.2" font-size="10.5" text-anchor="middle" fill="#333" stroke="#333" stroke-width="0.4" textLength="42.7" lengthAdjust="spacingAndGlyphs" >eth phy</text>
<text x="640.5" y="1049.8" font-size="12" text-anchor="middle" fill="#333" stroke="#333" stroke-width="0.4" textLength="206" lengthAdjust="spacingAndGlyphs" >SAS Interconnect - Bays 5, 6, 7, 8</text>
</g>
</svg>
</body></html>
